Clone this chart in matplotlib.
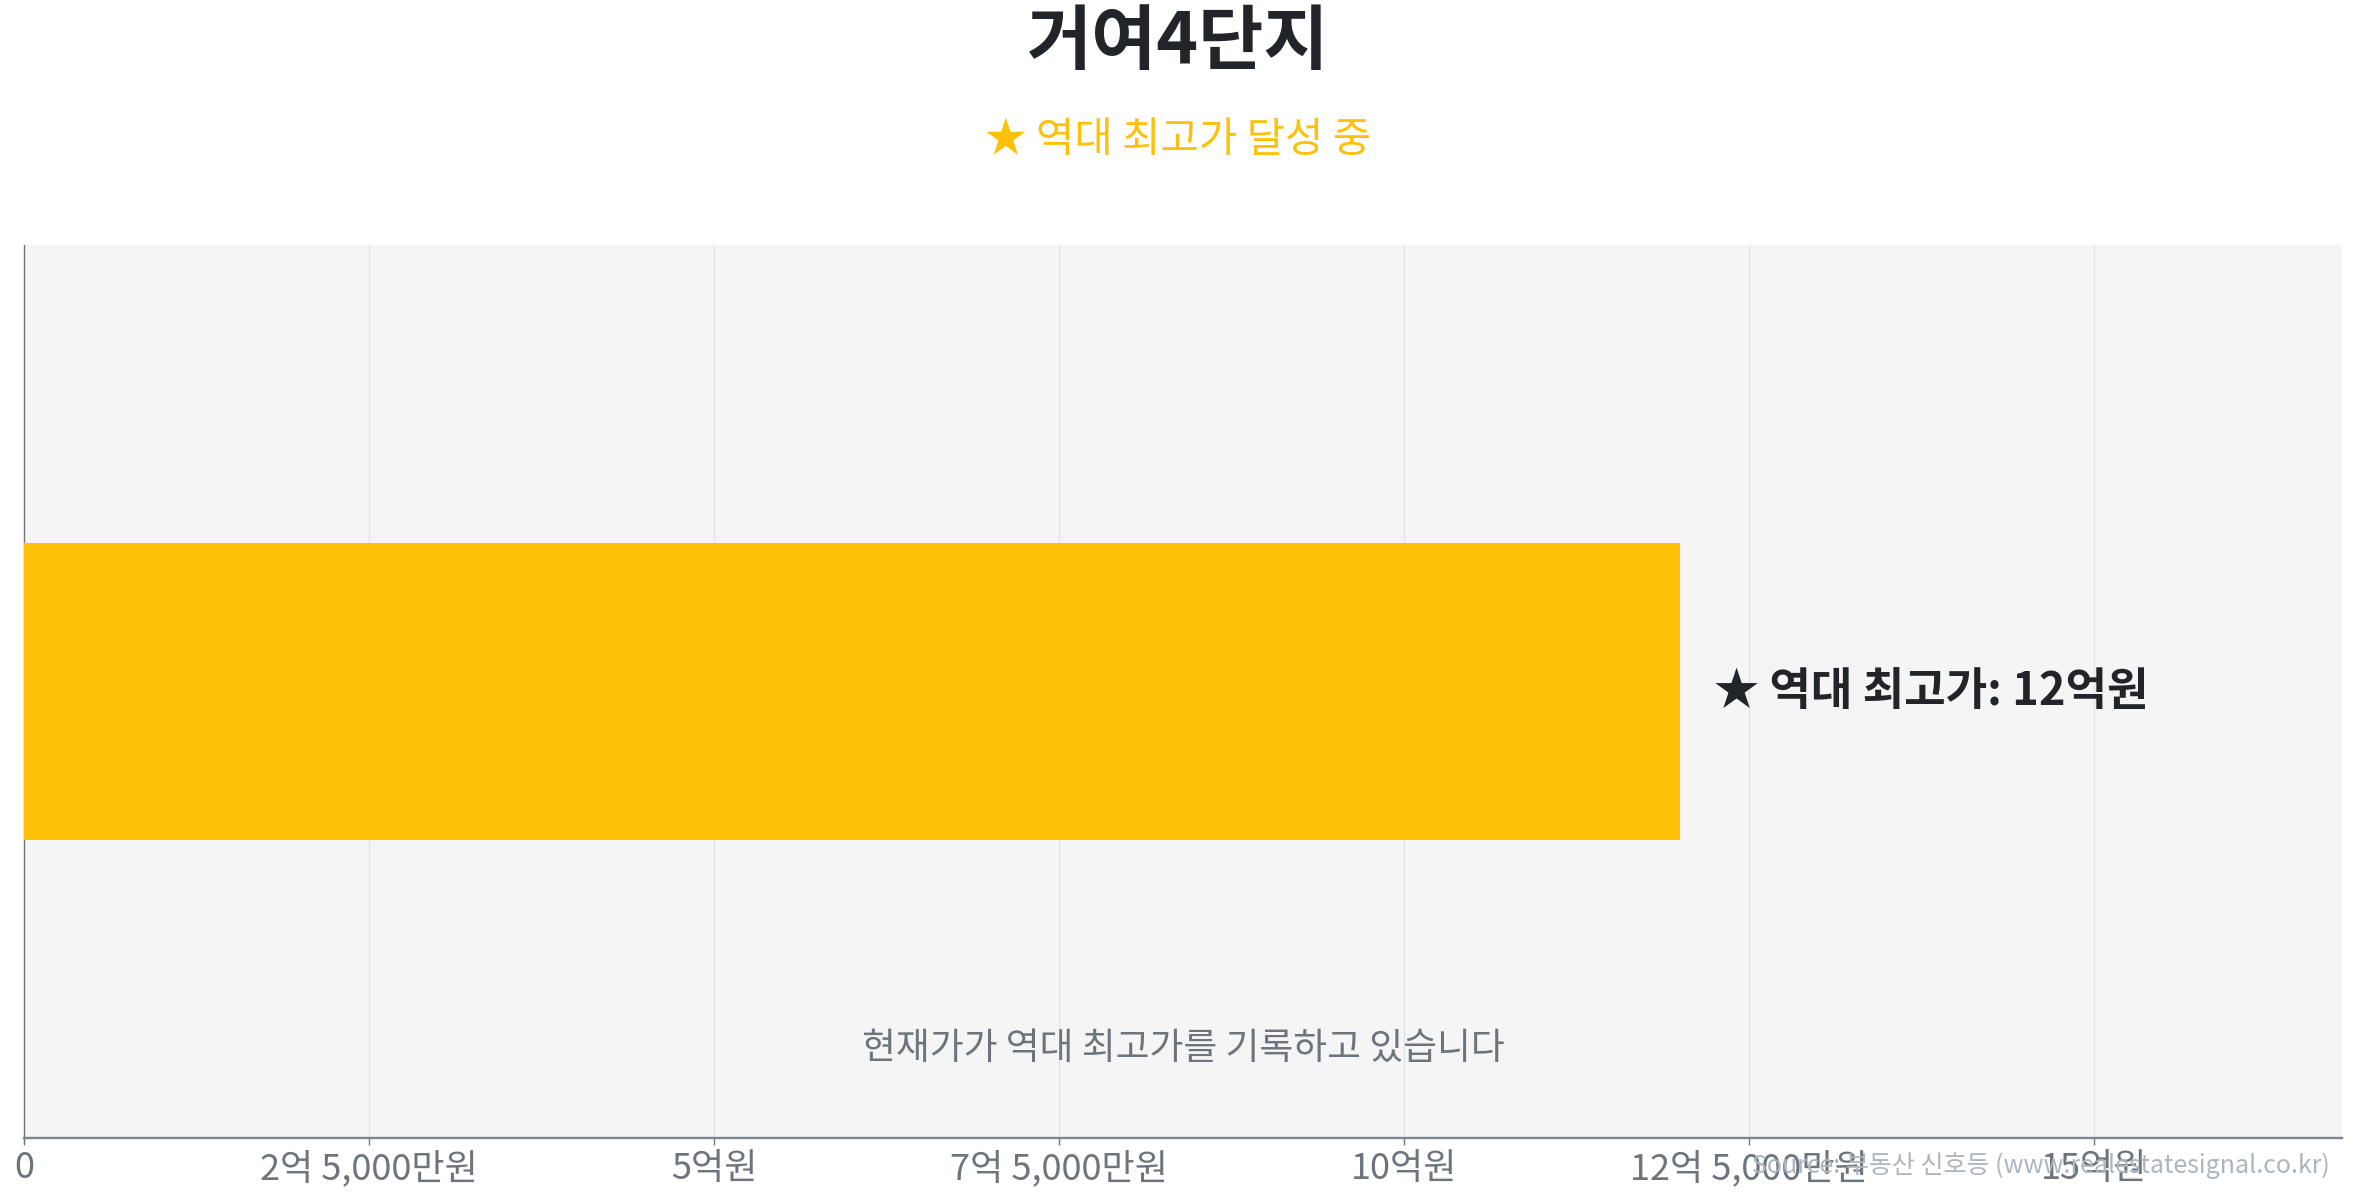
import matplotlib
matplotlib.use("Agg")
import matplotlib.pyplot as plt
from matplotlib.ticker import FuncFormatter, MultipleLocator

# ---- data ----
complex_name = ["거여4단지"]
peak_price_manwon = [120000]          # 12억원 (만원 단위)
tick_step_manwon = 25000
title_text = "거여4단지"
subtitle_text = "★ 역대 최고가 달성 중"
annotation_text = "★ 역대 최고가: 12억원"
center_note = "현재가가 역대 최고가를 기록하고 있습니다"
source_text = "Source: 부동산 신호등 (www.realestatesignal.co.kr)"

plt.rcParams['font.family'] = ['Noto Sans CJK KR', 'DejaVu Sans']

def fmt_won(v, pos=None):
    v = int(round(v))
    if v == 0:
        return "0"
    eok, man = divmod(v, 10000)
    if eok and man:
        return f"{eok}억 {man:,}만원"
    if eok:
        return f"{eok}억원"
    return f"{man:,}만원"

fig = plt.figure(figsize=(23.57, 12), dpi=100)
ax = fig.add_axes([24/2357, 1-1138/1200, (2342-24)/2357, (1138-245)/1200])
ax.set_facecolor('#f5f5f5')

bars = ax.barh(range(len(complex_name)), peak_price_manwon, height=0.6,
               color='#FFC107', zorder=3)
ax.set_xlim(0, max(peak_price_manwon) * 1.4)
ax.set_ylim(-0.9, 0.9)
ax.set_yticks([])

ax.xaxis.set_major_locator(MultipleLocator(tick_step_manwon))
ax.xaxis.set_major_formatter(FuncFormatter(fmt_won))
ax.tick_params(axis='x', labelsize=26, colors='#6c757d', length=5, width=1, pad=4)
ax.grid(axis='x', color='#e3e3e3', linewidth=1, zorder=0)

for s in ['top', 'right']:
    ax.spines[s].set_visible(False)
ax.spines['bottom'].set_color('#80868b')
ax.spines['bottom'].set_linewidth(1.7)
ax.spines['left'].set_color('#6c757d')
ax.spines['left'].set_linewidth(1)

for b, v in zip(bars, peak_price_manwon):
    ax.annotate(annotation_text, xy=(v, b.get_y() + b.get_height()/2),
                xytext=(25, 0), textcoords='offset points',
                ha='left', va='center', fontsize=32.5, fontweight='bold',
                color='#212529')

ax.text(0.5, 0.1, center_note, transform=ax.transAxes, ha='center', va='center',
        fontsize=26.5, color='#6c757d')

fig.text(0.5, 0.964, title_text, ha='center', va='center', fontsize=51,
         fontweight='bold', color='#212529')
fig.text(0.5, 0.883, subtitle_text, ha='center', va='center', fontsize=30,
         color='#FFC107')
fig.text(0.9885, 0.029, source_text, ha='right', va='center', fontsize=18,
         color='#adb5bd')

fig.savefig('out.png', dpi=100, facecolor='white')
